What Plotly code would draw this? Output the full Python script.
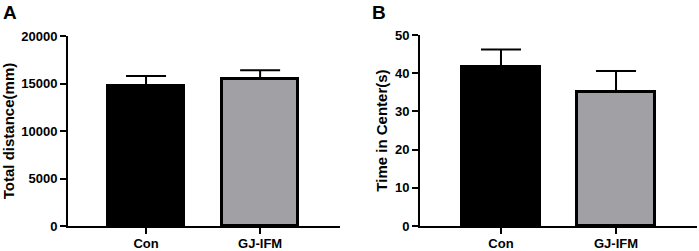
import plotly.graph_objects as go

categories = ["Con", "GJ-IFM"]
dist_mean = [14700, 15500]
dist_err = [1100, 900]
dist_ticks = [0, 5000, 10000, 15000, 20000]
center_mean = [41.7, 35.2]
center_err = [4.5, 5.4]
center_ticks = [0, 10, 20, 30, 40, 50]
bar_colors = ["#000000", "#a1a1a5"]

W, H = 699, 251
def px(x):
    return x / W
def py(y):
    return (H - y) / H

fig = go.Figure()
fig.add_trace(go.Bar(
    x=categories, y=dist_mean, xaxis="x", yaxis="y", width=0.66,
    marker=dict(color=bar_colors, line=dict(color="black", width=3)),
    error_y=dict(type="data", symmetric=False, array=dist_err, arrayminus=[0, 0],
                 color="black", thickness=2, width=20),
    showlegend=False))
fig.add_trace(go.Bar(
    x=categories, y=center_mean, xaxis="x2", yaxis="y2", width=0.68,
    marker=dict(color=bar_colors, line=dict(color="black", width=3)),
    error_y=dict(type="data", symmetric=False, array=center_err, arrayminus=[0, 0],
                 color="black", thickness=2, width=20),
    showlegend=False))

FONT = "Liberation Sans, Arial"
tickfont = dict(family=FONT, size=13, color="black", weight="bold")
titlefont = dict(family=FONT, size=15, color="black", weight="bold")

axcommon = dict(showline=True, linecolor="black", linewidth=2, ticks="outside",
                ticklen=6, tickwidth=2, tickcolor="black", showgrid=False,
                zeroline=False, tickfont=tickfont, automargin=False)

fig.update_layout(
    width=W, height=H, margin=dict(l=0, r=0, t=0, b=0, autoexpand=False),
    plot_bgcolor="white", paper_bgcolor="white", bargap=0,
    xaxis=dict(domain=[px(68), px(340)], range=[-0.684, 1.70], anchor="y",
               ticklabelstandoff=-2, **axcommon),
    yaxis=dict(domain=[py(226), py(36)], range=[0, 20000], anchor="x",
               tickvals=dist_ticks, ticktext=[str(v) for v in dist_ticks],
               title=dict(text="Total distance(mm)", font=titlefont, standoff=4), **axcommon),
    xaxis2=dict(domain=[px(420), px(697)], range=[-0.704, 1.704], anchor="y2",
                ticklabelstandoff=-2, **axcommon),
    yaxis2=dict(domain=[py(226), py(35)], range=[0, 50], anchor="x2",
                tickvals=center_ticks, ticktext=[str(v) for v in center_ticks],
                title=dict(text="Time in Center(s)", font=titlefont, standoff=4), **axcommon),
    annotations=[
        dict(text="A", x=px(1), y=py(0), xref="paper", yref="paper", xanchor="left",
             yanchor="top", showarrow=False,
             font=dict(family=FONT, size=19, color="black", weight="bold")),
        dict(text="B", x=px(370), y=py(0), xref="paper", yref="paper", xanchor="left",
             yanchor="top", showarrow=False,
             font=dict(family=FONT, size=19, color="black", weight="bold")),
    ],
)

fig.write_html("out.html", config={"displayModeBar": False},
               post_script="document.body.style.margin='0';")
